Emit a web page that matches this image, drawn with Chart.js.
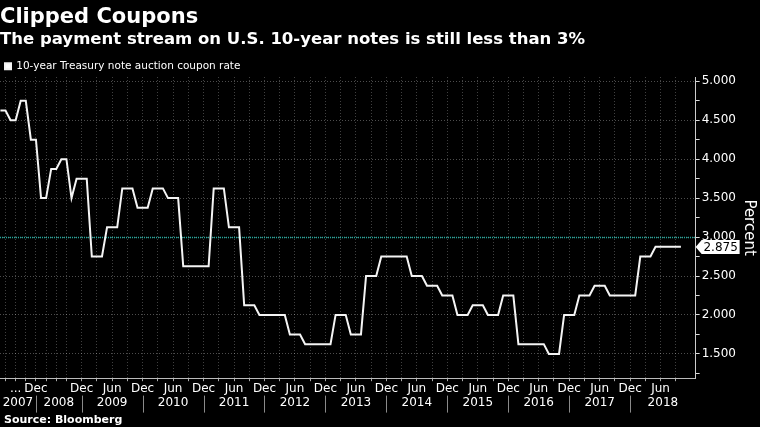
<!DOCTYPE html>
<html>
<head>
<meta charset="utf-8">
<script src="https://cdn.jsdelivr.net/npm/chart.js@4.4.1/dist/chart.umd.min.js"></script>
<style>
  html, body { margin: 0; padding: 0; background: #000; }
  #wrap { position: relative; width: 760px; height: 427px; }
  #source { position: absolute; left: 4px; top: 413px; color: #fff; font: bold 11px "DejaVu Sans", sans-serif; }
</style>
</head>
<body>
<div id="wrap">
  <canvas id="chart"></canvas>
  <div id="source">Source: Bloomberg</div>
</div>
<script>
"use strict";

// one point per 10-year note auction (new issue or reopening)
const auctionMonths = [
  "2007-02", "2007-03", "2007-05", "2007-06", "2007-08", "2007-09", "2007-11", "2007-12",
  "2008-02", "2008-03", "2008-05", "2008-06", "2008-08", "2008-09", "2008-10", "2008-11", "2008-12",
  "2009-01", "2009-02", "2009-03", "2009-04", "2009-05", "2009-06", "2009-07", "2009-08", "2009-09", "2009-10", "2009-11", "2009-12",
  "2010-01", "2010-02", "2010-03", "2010-04", "2010-05", "2010-06", "2010-07", "2010-08", "2010-09", "2010-10", "2010-11", "2010-12",
  "2011-01", "2011-02", "2011-03", "2011-04", "2011-05", "2011-06", "2011-07", "2011-08", "2011-09", "2011-10", "2011-11", "2011-12",
  "2012-01", "2012-02", "2012-03", "2012-04", "2012-05", "2012-06", "2012-07", "2012-08", "2012-09", "2012-10", "2012-11", "2012-12",
  "2013-01", "2013-02", "2013-03", "2013-04", "2013-05", "2013-06", "2013-07", "2013-08", "2013-09", "2013-10", "2013-11", "2013-12",
  "2014-01", "2014-02", "2014-03", "2014-04", "2014-05", "2014-06", "2014-07", "2014-08", "2014-09", "2014-10", "2014-11", "2014-12",
  "2015-01", "2015-02", "2015-03", "2015-04", "2015-05", "2015-06", "2015-07", "2015-08", "2015-09", "2015-10", "2015-11", "2015-12",
  "2016-01", "2016-02", "2016-03", "2016-04", "2016-05", "2016-06", "2016-07", "2016-08", "2016-09", "2016-10", "2016-11", "2016-12",
  "2017-01", "2017-02", "2017-03", "2017-04", "2017-05", "2017-06", "2017-07", "2017-08", "2017-09", "2017-10", "2017-11", "2017-12",
  "2018-01", "2018-02", "2018-03", "2018-04", "2018-05", "2018-06", "2018-07", "2018-08", "2018-09", "2018-10"
];

// coupon rate, percent
const coupons = [
  4.625, 4.625, 4.5, 4.5, 4.75, 4.75, 4.25, 4.25,
  3.5, 3.5, 3.875, 3.875, 4.0, 4.0, 3.5, 3.75, 3.75,
  3.75, 2.75, 2.75, 2.75, 3.125, 3.125, 3.125, 3.625, 3.625, 3.625, 3.375, 3.375,
  3.375, 3.625, 3.625, 3.625, 3.5, 3.5, 3.5, 2.625, 2.625, 2.625, 2.625, 2.625,
  2.625, 3.625, 3.625, 3.625, 3.125, 3.125, 3.125, 2.125, 2.125, 2.125, 2.0, 2.0,
  2.0, 2.0, 2.0, 2.0, 1.75, 1.75, 1.75, 1.625, 1.625, 1.625, 1.625, 1.625,
  1.625, 2.0, 2.0, 2.0, 1.75, 1.75, 1.75, 2.5, 2.5, 2.5, 2.75, 2.75,
  2.75, 2.75, 2.75, 2.75, 2.5, 2.5, 2.5, 2.375, 2.375, 2.375, 2.25, 2.25,
  2.25, 2.0, 2.0, 2.0, 2.125, 2.125, 2.125, 2.0, 2.0, 2.0, 2.25, 2.25,
  2.25, 1.625, 1.625, 1.625, 1.625, 1.625, 1.625, 1.5, 1.5, 1.5, 2.0, 2.0,
  2.0, 2.25, 2.25, 2.25, 2.375, 2.375, 2.375, 2.25, 2.25, 2.25, 2.25, 2.25,
  2.25, 2.75, 2.75, 2.75, 2.875, 2.875, 2.875, 2.875, 2.875, 2.875
];

// month labels on the x axis
const labelMonths = [
  "2007-06", "2007-12", "2008-12", "2009-06", "2009-12", "2010-06", "2010-12", "2011-06",
  "2011-12", "2012-06", "2012-12", "2013-06", "2013-12", "2014-06", "2014-12", "2015-06",
  "2015-12", "2016-06", "2016-12", "2017-06", "2017-12", "2018-06"
];
const labelTexts = [
  "...", "Dec", "Dec", "Jun", "Dec", "Jun", "Dec", "Jun",
  "Dec", "Jun", "Dec", "Jun", "Dec", "Jun", "Dec", "Jun",
  "Dec", "Jun", "Dec", "Jun", "Dec", "Jun"
];

const REFERENCE_LEVEL = 3;
const SERIES_NAME = "10-year Treasury note auction coupon rate";

const X_MIN = -0.08;
const X_MAX = 136.9;

// quarter-end auctions carry the vertical grid
const gridIndex = auctionMonths
  .map((m, i) => ([3, 6, 9, 12].includes(Number(m.slice(5))) ? i : -1))
  .filter((i) => i >= 0);

// year separators sit on the last auction of each year, labels centered between them
const separators = auctionMonths
  .map((m, i) => (i < auctionMonths.length - 1 && auctionMonths[i + 1].slice(0, 4) !== m.slice(0, 4) ? i : -1))
  .filter((i) => i >= 0);
const years = [...new Set(auctionMonths.map((m) => m.slice(0, 4)))];
const bounds = [X_MIN, ...separators, X_MAX];
const yearCenters = years.map((y, k) => (bounds[k] + bounds[k + 1]) / 2);

const isHalf = (v) => Math.abs(v * 2 - Math.round(v * 2)) < 1e-6;

const referenceLine = {
  id: "referenceLine",
  beforeDatasetsDraw(chart) {
    const { ctx, chartArea, scales } = chart;
    const py = Math.round(scales.y.getPixelForValue(REFERENCE_LEVEL)) + 0.5;
    ctx.save();
    ctx.strokeStyle = "#22a89c";
    ctx.lineWidth = 1.5;
    ctx.setLineDash([1, 1]);
    ctx.beginPath();
    ctx.moveTo(chartArea.left, py);
    ctx.lineTo(chartArea.right, py);
    ctx.stroke();
    ctx.restore();
  }
};

// thin separators between the year labels
const yearSeparators = {
  id: "yearSeparators",
  afterDraw(chart) {
    const { ctx, scales } = chart;
    const top = scales.x.bottom;
    ctx.save();
    ctx.strokeStyle = "#8a8a8a";
    ctx.lineWidth = 1;
    separators.forEach((s) => {
      const px = Math.round(scales.x.getPixelForValue(s)) + 0.5;
      ctx.beginPath();
      ctx.moveTo(px, top);
      ctx.lineTo(px, top + 17);
      ctx.stroke();
    });
    ctx.restore();
  }
};

// white tag with the latest value on the right axis
const lastValueTag = {
  id: "lastValueTag",
  afterDraw(chart) {
    const { ctx, chartArea, scales } = chart;
    const value = coupons[coupons.length - 1];
    const py = Math.round(scales.y.getPixelForValue(value));
    const tip = chartArea.right;
    const left = tip + 6;
    const right = tip + 44;
    const h = 7;
    ctx.save();
    ctx.fillStyle = "#fff";
    ctx.beginPath();
    ctx.moveTo(tip, py);
    ctx.lineTo(left, py - h);
    ctx.lineTo(right, py - h);
    ctx.lineTo(right, py + h);
    ctx.lineTo(left, py + h);
    ctx.closePath();
    ctx.fill();
    ctx.fillStyle = "#000";
    ctx.font = '12px "DejaVu Sans"';
    ctx.textAlign = "center";
    ctx.textBaseline = "middle";
    ctx.fillText(value.toFixed(3), (left + right) / 2, py + 0.5);
    ctx.restore();
  }
};

Chart.defaults.font.family = '"DejaVu Sans", sans-serif';
Chart.defaults.color = "#fff";

new Chart(document.getElementById("chart"), {
  type: "line",
  data: {
    datasets: [
      {
        label: SERIES_NAME,
        data: coupons.map((v, i) => ({ x: i, y: v })),
        borderColor: "#f4f4f4",
        backgroundColor: "#fff",
        borderWidth: 2,
        pointRadius: 0,
        tension: 0,
        fill: false
      }
    ]
  },
  options: {
    responsive: true,
    maintainAspectRatio: false,
    animation: false,
    layout: { padding: { left: 0, right: 2, top: 0, bottom: 17 } },
    plugins: {
      title: {
        display: true,
        text: "Clipped Coupons",
        align: "start",
        color: "#fff",
        font: { size: 21, weight: "bold" },
        padding: { top: 5, bottom: 0 }
      },
      subtitle: {
        display: true,
        text: "The payment stream on U.S. 10-year notes is still less than 3%",
        align: "start",
        color: "#fff",
        font: { size: 16.5, weight: "bold" },
        padding: { top: 0, bottom: 6 }
      },
      legend: {
        display: true,
        align: "start",
        maxHeight: 21,
        labels: {
          boxWidth: 6,
          boxHeight: 6,
          padding: 5,
          color: "#fff",
          font: { size: 10.5 }
        }
      },
      tooltip: { enabled: false }
    },
    scales: {
      x: {
        type: "linear",
        position: "bottom",
        weight: 0,
        min: X_MIN,
        max: X_MAX,
        afterBuildTicks: (scale) => {
          scale.ticks = gridIndex.map((v) => ({ value: v }));
        },
        ticks: {
          autoSkip: false,
          maxRotation: 0,
          padding: 0,
          color: "#fff",
          font: { size: 12 },
          callback: (v) => {
            const k = labelMonths.indexOf(auctionMonths[v]);
            return k >= 0 ? labelTexts[k] : "";
          }
        },
        grid: { color: "rgba(255,255,255,0.25)", tickColor: "#aaa", tickLength: 3 },
        border: { color: "#bbb", dash: [1, 2] }
      },
      x2: {
        type: "linear",
        position: "bottom",
        weight: 1,
        min: X_MIN,
        max: X_MAX,
        afterBuildTicks: (scale) => {
          scale.ticks = yearCenters.map((v) => ({ value: v }));
        },
        ticks: {
          autoSkip: false,
          maxRotation: 0,
          padding: 0,
          color: "#fff",
          font: { size: 12 },
          callback: (v, i) => years[i]
        },
        grid: { display: false, drawTicks: false, tickLength: 0 },
        border: { display: false }
      },
      y: {
        position: "right",
        min: 1.188,
        max: 5.055,
        ticks: {
          stepSize: 0.25,
          includeBounds: false,
          padding: 2,
          color: "#fff",
          font: { size: 12 },
          callback: (v) => (isHalf(v) ? v.toFixed(3) : "")
        },
        grid: {
          color: (c) => (isHalf(c.tick.value) ? "rgba(255,255,255,0.3)" : "transparent"),
          tickColor: "#ddd",
          tickLength: 4
        },
        border: { color: "#ccc", dash: [1, 2] },
        title: {
          display: true,
          text: "Percent",
          color: "#fff",
          font: { size: 15 },
          padding: { top: 0, bottom: 2 }
        }
      }
    }
  },
  plugins: [referenceLine, yearSeparators, lastValueTag]
});
</script>
</body>
</html>
